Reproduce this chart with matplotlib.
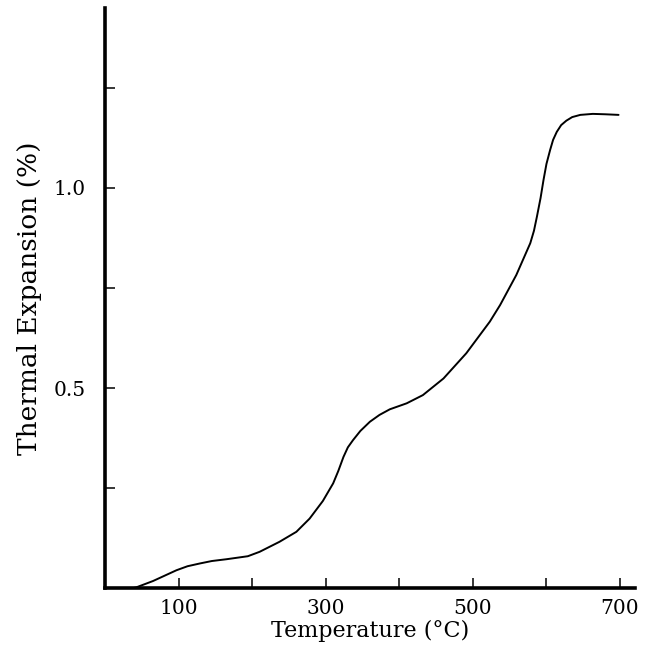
import numpy as np
import matplotlib.pyplot as plt

# values
temp = [37, 42, 65, 97, 112, 129, 145, 165, 194, 210, 237, 260, 278, 296,
        310, 317, 324, 330, 337, 347, 360, 373, 387, 410, 432, 460, 491,
        523, 537, 559, 578, 583, 587, 592, 596, 600, 605, 609, 614, 620,
        627, 635, 646, 663, 680, 698]
expansion = [0.0, 0.002, 0.018, 0.045, 0.055, 0.062, 0.068, 0.0725, 0.08,
             0.091, 0.116, 0.141, 0.174, 0.218, 0.262, 0.293, 0.328, 0.352,
             0.37, 0.393, 0.416, 0.433, 0.447, 0.462, 0.4825, 0.524, 0.587,
             0.666, 0.7075, 0.7825, 0.862, 0.893, 0.928, 0.975, 1.02, 1.06,
             1.095, 1.12, 1.14, 1.157, 1.168, 1.177, 1.1825, 1.185, 1.184,
             1.1825]

xticks = [100, 200, 300, 400, 500, 600, 700]
xticklabels = ['100', '', '300', '', '500', '', '700']
yticks = [0.25, 0.5, 0.75, 1.0, 1.25]
yticklabels = ['', '0.5', '', '1.0', '']

plt.rcParams['font.family'] = ['DejaVu Serif']

fig = plt.figure(figsize=(6.49, 6.5), dpi=100)
ax = fig.add_axes([0.162, 0.095, 0.816, 0.893])

ax.plot(temp, expansion, color='black', lw=1.4,
        solid_joinstyle='round', solid_capstyle='round')

ax.set_xlim(0, 720)
ax.set_ylim(0, 1.45)
ax.set_xticks(xticks)
ax.set_xticklabels(xticklabels)
ax.set_yticks(yticks)
ax.set_yticklabels(yticklabels)

for s in ['top', 'right']:
    ax.spines[s].set_visible(False)
for s in ['left', 'bottom']:
    ax.spines[s].set_linewidth(2.6)

ax.tick_params(direction='in', length=7, width=1.1, labelsize=14.5, pad=8)
ax.tick_params(axis='y', pad=14)

ax.set_xlabel('Temperature (°C)', fontsize=16, labelpad=1)
ax.set_ylabel('Thermal Expansion (%)', fontsize=19, labelpad=8)

fig.savefig('out.png', dpi=100)
